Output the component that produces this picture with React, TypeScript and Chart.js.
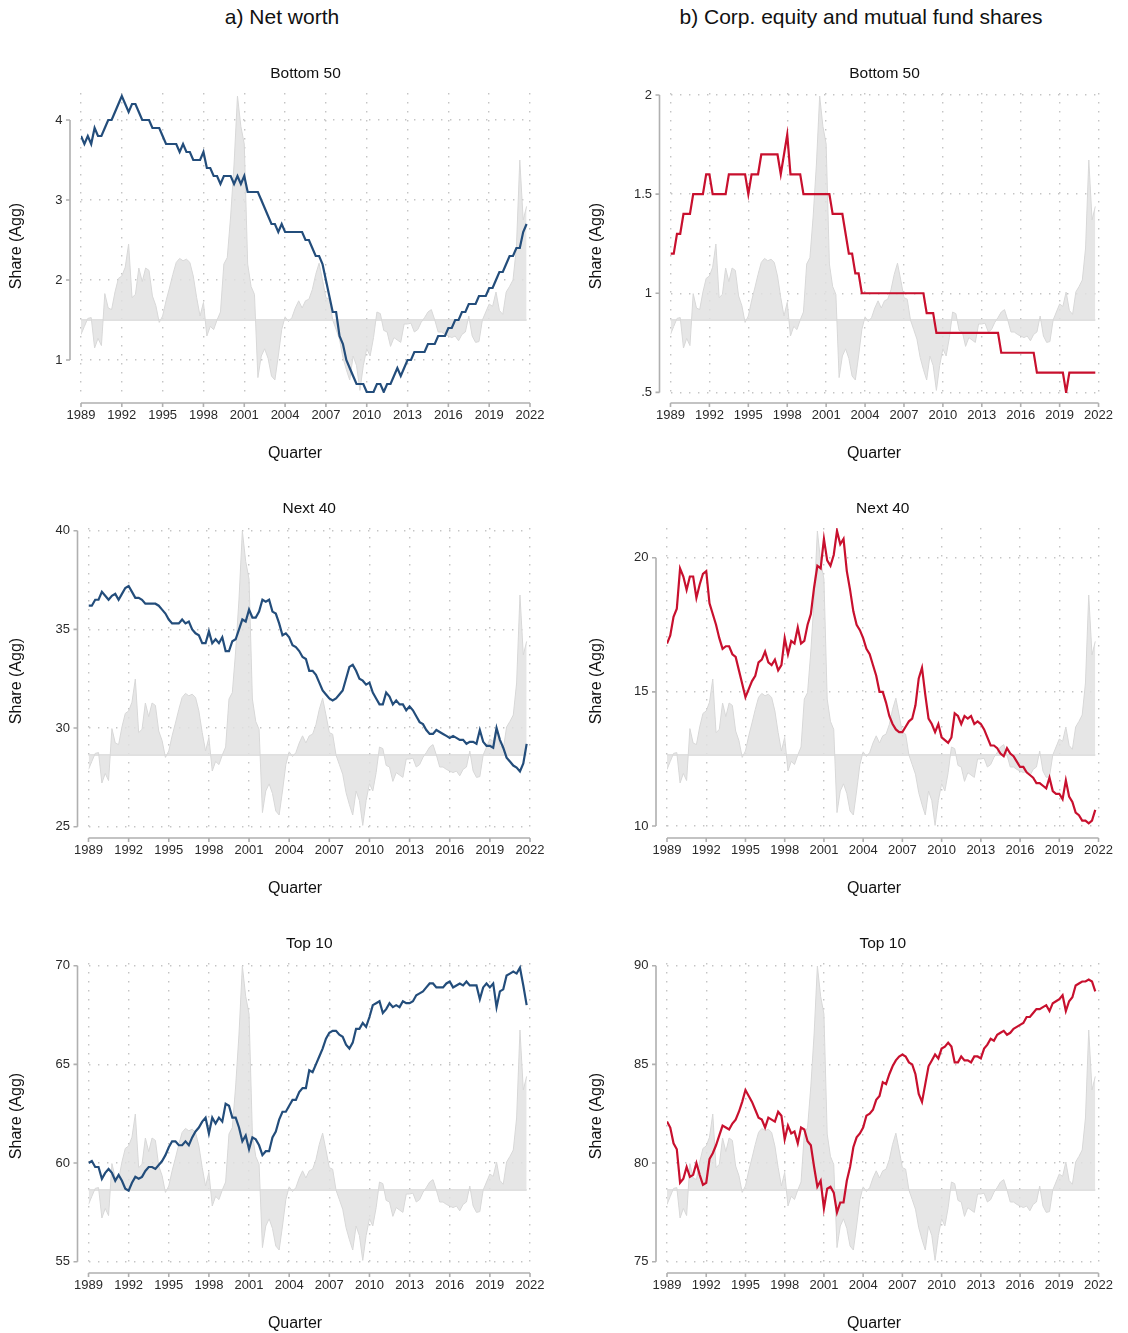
import React, { useEffect, useRef } from 'react';
import { Chart, registerables } from 'chart.js';

Chart.register(...registerables);
Chart.defaults.font.family = "'Liberation Sans', Arial, Helvetica, sans-serif";
Chart.defaults.color = '#333';

// ---------- time axis (quarterly, 1989Q1 .. 2021Q4) ----------
const START_YEAR = 1989;
const N_QUARTERS = 132;
const quarters: number[] = Array.from({ length: N_QUARTERS }, (_, i) => START_YEAR + i / 4);
const xTickYears = [1989, 1992, 1995, 1998, 2001, 2004, 2007, 2010, 2013, 2016, 2019, 2022];

// ---------- background stock-market cycle (grey area, same in every panel) ----------
const stockCycle = [
  -0.18, -0.08, 0.02, 0.03, // 1989
  -0.35, -0.23, -0.32, 0.33, // 1990
  0.15, 0.13, 0.35, 0.52, // 1991
  0.55, 0.66, 0.95, 0.28, // 1992
  0.32, 0.65, 0.48, 0.65, // 1993
  0.62, 0.3, 0.18, -0.03, // 1994
  0.05, 0.24, 0.4, 0.57, // 1995
  0.72, 0.77, 0.74, 0.76, // 1996
  0.72, 0.55, 0.28, 0.05, // 1997
  0.22, -0.2, -0.08, -0.12, // 1998
  0.0, 0.1, 0.7, 0.78, // 1999
  1.3, 1.95, 2.8, 2.42, // 2000
  2.2, 0.7, 0.42, 0.32, // 2001
  -0.72, -0.45, -0.36, -0.48, // 2002
  -0.7, -0.75, -0.45, -0.12, // 2003
  0.04, -0.02, 0.03, 0.15, // 2004
  0.24, 0.15, 0.24, 0.26, // 2005
  0.38, 0.57, 0.71, 0.5, // 2006
  0.28, 0.26, 0.0, -0.12, // 2007
  -0.24, -0.47, -0.62, -0.75, // 2008
  -0.45, -0.57, -0.88, -0.57, // 2009
  -0.36, -0.45, -0.22, 0.1, // 2010
  0.08, -0.13, -0.15, -0.33, // 2011
  -0.22, -0.25, -0.28, -0.05, // 2012
  -0.05, -0.04, -0.15, -0.12, // 2013
  -0.03, 0.03, 0.1, 0.13, // 2014
  0.0, -0.15, -0.15, -0.18, // 2015
  -0.2, -0.22, -0.2, -0.26, // 2016
  -0.18, -0.15, 0.05, -0.2, // 2017
  -0.28, -0.27, 0.0, 0.1, // 2018
  0.2, 0.17, 0.35, 0.12, // 2019
  0.07, 0.35, 0.42, 0.5, // 2020
  0.9, 2.0, 1.25, 1.42, // 2021
];

// ---------- a) Net worth shares ----------
const nwBottom50 = [
  3.8, 3.7, 3.8, 3.7, 3.9, 3.8, 3.8, 3.9, 4.0, 4.0, 4.1, 4.2, // 1989-1991
  4.3, 4.2, 4.1, 4.2, 4.2, 4.1, 4.0, 4.0, 4.0, 3.9, 3.9, 3.9, // 1992-1994
  3.8, 3.7, 3.7, 3.7, 3.7, 3.6, 3.7, 3.6, 3.6, 3.5, 3.5, 3.5, // 1995-1997
  3.6, 3.4, 3.4, 3.3, 3.3, 3.2, 3.3, 3.3, 3.3, 3.2, 3.3, 3.2, // 1998-2000
  3.3, 3.1, 3.1, 3.1, 3.1, 3.0, 2.9, 2.8, 2.7, 2.7, 2.6, 2.7, // 2001-2003
  2.6, 2.6, 2.6, 2.6, 2.6, 2.6, 2.5, 2.5, 2.4, 2.3, 2.3, 2.2, // 2004-2006
  2.0, 1.8, 1.6, 1.6, 1.3, 1.2, 1.0, 0.9, 0.8, 0.7, 0.7, 0.7, // 2007-2009
  0.6, 0.6, 0.6, 0.7, 0.7, 0.6, 0.7, 0.7, 0.8, 0.9, 0.8, 0.9, // 2010-2012
  1.0, 1.0, 1.1, 1.1, 1.1, 1.1, 1.2, 1.2, 1.2, 1.3, 1.3, 1.3, // 2013-2015
  1.4, 1.4, 1.5, 1.5, 1.6, 1.6, 1.7, 1.7, 1.7, 1.8, 1.8, 1.8, // 2016-2018
  1.9, 1.9, 2.0, 2.1, 2.1, 2.2, 2.3, 2.3, 2.4, 2.4, 2.6, 2.7, // 2019-2021
];
const nwNext40 = [
  36.2, 36.2, 36.5, 36.5, 36.9, 36.7, 36.5, 36.7, 36.8, 36.5, 36.8, 37.1, // 1989-1991
  37.2, 36.9, 36.6, 36.6, 36.5, 36.3, 36.3, 36.3, 36.3, 36.2, 36.0, 35.8, // 1992-1994
  35.5, 35.3, 35.3, 35.3, 35.5, 35.3, 35.4, 35.0, 34.8, 34.7, 34.3, 34.3, // 1995-1997
  34.9, 34.3, 34.5, 34.3, 34.6, 33.9, 33.9, 34.4, 34.5, 35.0, 35.5, 35.4, // 1998-2000
  36.0, 35.6, 35.6, 35.9, 36.5, 36.4, 36.5, 35.9, 35.8, 35.3, 34.7, 34.8, // 2001-2003
  34.6, 34.2, 34.1, 33.9, 33.6, 33.5, 32.9, 32.9, 32.7, 32.3, 31.9, 31.7, // 2004-2006
  31.5, 31.4, 31.5, 31.7, 31.9, 32.5, 33.1, 33.2, 32.9, 32.5, 32.4, 32.2, // 2007-2009
  32.3, 31.8, 31.5, 31.2, 31.2, 31.8, 31.6, 31.2, 31.4, 31.2, 31.2, 30.9, // 2010-2012
  31.1, 30.9, 30.6, 30.3, 30.2, 29.9, 29.7, 29.7, 29.9, 29.8, 29.7, 29.6, // 2013-2015
  29.5, 29.6, 29.5, 29.4, 29.4, 29.2, 29.3, 29.3, 29.2, 29.9, 29.3, 29.1, // 2016-2018
  29.1, 29.0, 30.0, 29.4, 29.0, 28.5, 28.3, 28.1, 28.0, 27.8, 28.2, 29.2, // 2019-2021
];
const nwTop10 = [
  60.0, 60.1, 59.8, 59.8, 59.2, 59.5, 59.7, 59.5, 59.1, 59.4, 59.1, 58.7, // 1989-1991
  58.6, 59.0, 59.3, 59.2, 59.3, 59.6, 59.8, 59.8, 59.7, 59.9, 60.1, 60.4, // 1992-1994
  60.8, 61.1, 61.1, 60.9, 60.9, 61.1, 60.9, 61.3, 61.6, 61.8, 62.1, 62.3, // 1995-1997
  61.5, 62.3, 62.0, 62.3, 62.1, 63.0, 62.9, 62.3, 62.3, 61.8, 61.1, 61.4, // 1998-2000
  60.7, 61.3, 61.2, 60.9, 60.4, 60.6, 60.6, 61.3, 61.6, 62.2, 62.6, 62.6, // 2001-2003
  62.9, 63.2, 63.2, 63.6, 63.8, 63.8, 64.7, 64.6, 65.0, 65.4, 65.8, 66.3, // 2004-2006
  66.6, 66.7, 66.7, 66.5, 66.4, 66.0, 65.8, 66.1, 66.8, 66.8, 67.1, 66.9, // 2007-2009
  67.4, 68.0, 68.1, 68.2, 67.6, 67.8, 68.1, 67.9, 68.0, 67.9, 68.2, 68.1, // 2010-2012
  68.1, 68.2, 68.5, 68.6, 68.7, 68.9, 69.1, 69.1, 68.9, 68.9, 68.9, 69.1, // 2013-2015
  69.2, 68.9, 69.0, 69.1, 69.0, 69.2, 69.0, 69.0, 69.0, 68.3, 68.9, 69.1, // 2016-2018
  68.9, 69.1, 67.9, 68.7, 68.8, 69.5, 69.6, 69.7, 69.6, 69.9, 69.0, 68.0, // 2019-2021
];

// ---------- b) Corp. equity and mutual fund shares ----------
const eqBottom50 = [
  1.2, 1.2, 1.3, 1.3, 1.4, 1.4, 1.4, 1.5, 1.5, 1.5, 1.5, 1.6, // 1989-1991
  1.6, 1.5, 1.5, 1.5, 1.5, 1.5, 1.6, 1.6, 1.6, 1.6, 1.6, 1.6, // 1992-1994
  1.5, 1.6, 1.6, 1.6, 1.7, 1.7, 1.7, 1.7, 1.7, 1.7, 1.6, 1.7, // 1995-1997
  1.8, 1.6, 1.6, 1.6, 1.6, 1.5, 1.5, 1.5, 1.5, 1.5, 1.5, 1.5, // 1998-2000
  1.5, 1.5, 1.4, 1.4, 1.4, 1.4, 1.3, 1.2, 1.2, 1.1, 1.1, 1.0, // 2001-2003
  1.0, 1.0, 1.0, 1.0, 1.0, 1.0, 1.0, 1.0, 1.0, 1.0, 1.0, 1.0, // 2004-2006
  1.0, 1.0, 1.0, 1.0, 1.0, 1.0, 1.0, 0.9, 0.9, 0.9, 0.8, 0.8, // 2007-2009
  0.8, 0.8, 0.8, 0.8, 0.8, 0.8, 0.8, 0.8, 0.8, 0.8, 0.8, 0.8, // 2010-2012
  0.8, 0.8, 0.8, 0.8, 0.8, 0.8, 0.7, 0.7, 0.7, 0.7, 0.7, 0.7, // 2013-2015
  0.7, 0.7, 0.7, 0.7, 0.7, 0.6, 0.6, 0.6, 0.6, 0.6, 0.6, 0.6, // 2016-2018
  0.6, 0.6, 0.5, 0.6, 0.6, 0.6, 0.6, 0.6, 0.6, 0.6, 0.6, 0.6, // 2019-2021
];
const eqNext40 = [
  16.8, 17.1, 17.8, 18.1, 19.6, 19.3, 18.8, 19.3, 19.3, 18.5, 19.0, 19.4, // 1989-1991
  19.5, 18.3, 17.9, 17.5, 17.0, 16.6, 16.7, 16.7, 16.4, 16.3, 15.8, 15.3, // 1992-1994
  14.8, 15.1, 15.4, 15.6, 16.1, 16.2, 16.5, 16.1, 16.0, 16.2, 15.8, 16.0, // 1995-1997
  17.0, 16.4, 16.9, 16.8, 17.4, 16.8, 16.9, 17.5, 17.9, 18.9, 19.7, 19.6, // 1998-2000
  20.7, 19.9, 19.7, 20.1, 21.0, 20.5, 20.7, 19.5, 18.8, 18.0, 17.5, 17.3, // 2001-2003
  17.0, 16.6, 16.4, 16.0, 15.6, 15.0, 15.0, 14.6, 14.1, 13.8, 13.6, 13.5, // 2004-2006
  13.5, 13.7, 13.9, 14.0, 14.5, 15.5, 15.9, 14.9, 14.0, 13.8, 13.5, 13.8, // 2007-2009
  13.3, 13.2, 13.1, 13.3, 14.2, 14.1, 13.8, 14.1, 14.0, 14.1, 13.8, 13.9, // 2010-2012
  13.8, 13.6, 13.3, 13.0, 13.0, 12.9, 12.7, 12.6, 12.9, 12.7, 12.6, 12.4, // 2013-2015
  12.2, 12.2, 12.0, 11.9, 11.8, 11.6, 11.6, 11.5, 11.4, 11.8, 11.3, 11.2, // 2016-2018
  11.2, 11.0, 11.7, 11.1, 10.9, 10.5, 10.4, 10.2, 10.2, 10.1, 10.2, 10.6, // 2019-2021
];
const eqTop10 = [
  82.1, 81.8, 81.0, 80.7, 79.0, 79.2, 79.8, 79.3, 79.4, 80.0, 79.4, 78.9, // 1989-1991
  79.0, 80.2, 80.5, 80.9, 81.4, 81.9, 81.8, 81.7, 82.0, 82.2, 82.6, 83.1, // 1992-1994
  83.7, 83.4, 83.1, 82.7, 82.3, 82.2, 81.8, 82.3, 82.2, 82.1, 82.6, 82.4, // 1995-1997
  81.2, 81.9, 81.5, 81.6, 81.0, 81.8, 81.7, 81.1, 80.9, 79.8, 78.8, 79.1, // 1998-2000
  77.7, 78.7, 78.8, 78.5, 77.5, 78.0, 78.0, 79.1, 79.8, 80.8, 81.3, 81.5, // 2001-2003
  81.8, 82.4, 82.5, 82.7, 83.2, 83.4, 84.1, 84.0, 84.5, 84.9, 85.2, 85.4, // 2004-2006
  85.5, 85.4, 85.1, 85.0, 84.5, 83.5, 83.1, 84.0, 84.9, 85.2, 85.5, 85.3, // 2007-2009
  85.8, 85.9, 86.1, 85.9, 85.1, 85.1, 85.4, 85.2, 85.2, 85.1, 85.4, 85.4, // 2010-2012
  85.3, 85.8, 86.0, 86.3, 86.2, 86.5, 86.6, 86.7, 86.5, 86.6, 86.8, 86.9, // 2013-2015
  87.0, 87.1, 87.4, 87.4, 87.6, 87.8, 87.8, 87.9, 88.0, 87.7, 88.1, 88.2, // 2016-2018
  88.3, 88.5, 87.7, 88.2, 88.4, 89.0, 89.1, 89.2, 89.2, 89.3, 89.2, 88.7, // 2019-2021
];

// ---------- y tick values and labels ----------
const yTicksNwBottom50 = [1, 2, 3, 4];
const yLabelsNwBottom50 = ['1', '2', '3', '4'];
const yTicksEqBottom50 = [0.5, 1, 1.5, 2];
const yLabelsEqBottom50 = ['.5', '1', '1.5', '2'];
const yTicksNwNext40 = [25, 30, 35, 40];
const yLabelsNwNext40 = ['25', '30', '35', '40'];
const yTicksEqNext40 = [10, 15, 20];
const yLabelsEqNext40 = ['10', '15', '20'];
const yTicksNwTop10 = [55, 60, 65, 70];
const yLabelsNwTop10 = ['55', '60', '65', '70'];
const yTicksEqTop10 = [75, 80, 85, 90];
const yLabelsEqTop10 = ['75', '80', '85', '90'];

const columnHeaders = ['a) Net worth', 'b) Corp. equity and mutual fund shares'];

// ---------- styling ----------
const BLUE = '#234d7b';
const RED = '#c8102e';
const GRID = '#c4c4c4';
const AXIS = '#b0b0b0';
const FONT = "'Liberation Sans', Arial, Helvetica, sans-serif";
const CANVAS_W = 564;
const CANVAS_H = 403;
const AREA_TOP = 33;
const AREA_H = 300;
const STOCK_MIN = -0.9125;
const STOCK_MAX = 2.8375;

const panels = [
  { id: 'nwB50', col: 0, row: 0, title: 'Bottom 50', values: nwBottom50, color: BLUE, yMin: 0.5875, yMax: 4.3375, ticks: yTicksNwBottom50, labels: yLabelsNwBottom50, yWidth: 81, padRight: 34, yTitleX: 17, qX: 295 },
  { id: 'eqB50', col: 1, row: 0, title: 'Bottom 50', values: eqBottom50, color: RED, yMin: 0.497, yMax: 2.01, ticks: yTicksEqBottom50, labels: yLabelsEqBottom50, yWidth: 106.5, padRight: 20, yTitleX: 33, qX: 310 },
  { id: 'nwN40', col: 0, row: 1, title: 'Next 40', values: nwNext40, color: BLUE, yMin: 24.934, yMax: 40.137, ticks: yTicksNwNext40, labels: yLabelsNwNext40, yWidth: 88.5, padRight: 34, yTitleX: 17, qX: 295 },
  { id: 'eqN40', col: 1, row: 1, title: 'Next 40', values: eqNext40, color: RED, yMin: 9.925, yMax: 21.107, ticks: yTicksEqNext40, labels: yLabelsEqNext40, yWidth: 103, padRight: 20, yTitleX: 33, qX: 310 },
  { id: 'nwT10', col: 0, row: 2, title: 'Top 10', values: nwTop10, color: BLUE, yMin: 54.934, yMax: 70.137, ticks: yTicksNwTop10, labels: yLabelsNwTop10, yWidth: 88.5, padRight: 34, yTitleX: 17, qX: 295 },
  { id: 'eqT10', col: 1, row: 2, title: 'Top 10', values: eqTop10, color: RED, yMin: 74.934, yMax: 90.137, ticks: yTicksEqTop10, labels: yLabelsEqTop10, yWidth: 103, padRight: 20, yTitleX: 33, qX: 310 },
];

const decorPlugin = {
  id: 'stataDecor',
  beforeDatasetsDraw(chart: any) {
    const { ctx } = chart;
    const xs = chart.scales.x;
    const y2 = chart.scales.y2;
    const yb = y2.getPixelForValue(0);
    ctx.save();
    ctx.strokeStyle = '#d6d6d6';
    ctx.lineWidth = 1.5;
    ctx.beginPath();
    ctx.moveTo(xs.getPixelForValue(quarters[0]), yb);
    ctx.lineTo(xs.getPixelForValue(quarters[quarters.length - 1]), yb);
    ctx.stroke();
    ctx.restore();
  },
  afterDraw(chart: any, _args: any, opts: any) {
    const { ctx, chartArea } = chart;
    const xs = chart.scales.x;
    const ys = chart.scales.y;
    ctx.save();
    ctx.strokeStyle = AXIS;
    ctx.lineWidth = 1.6;
    // y axis line
    const ax = chartArea.left - 11;
    const yT = ys.ticks.map((t: any) => ys.getPixelForValue(t.value));
    ctx.beginPath();
    ctx.moveTo(ax, Math.min(...yT));
    ctx.lineTo(ax, Math.max(...yT));
    for (const p of yT) {
      ctx.moveTo(ax - 4, p);
      ctx.lineTo(ax, p);
    }
    ctx.stroke();
    // x axis line
    const ay = chartArea.bottom + 10;
    const xT = xs.ticks.map((t: any) => xs.getPixelForValue(t.value));
    ctx.beginPath();
    ctx.moveTo(Math.min(...xT), ay);
    ctx.lineTo(Math.max(...xT), ay);
    for (const p of xT) {
      ctx.moveTo(p, ay);
      ctx.lineTo(p, ay + 4);
    }
    ctx.stroke();
    // texts
    ctx.fillStyle = '#111';
    ctx.textAlign = 'center';
    ctx.textBaseline = 'middle';
    ctx.font = `15.5px ${FONT}`;
    ctx.fillText(opts.title, (chartArea.left + chartArea.right) / 2, chartArea.top - 19);
    ctx.font = `16px ${FONT}`;
    ctx.fillText('Quarter', opts.qX, chartArea.bottom + 61);
    ctx.translate(opts.yTitleX, (chartArea.top + chartArea.bottom) / 2 + 3);
    ctx.rotate(-Math.PI / 2);
    ctx.fillText('Share (Agg)', 0, 0);
    ctx.restore();
  },
};

function Panel({ p }: { p: any }) {
  const ref = useRef<HTMLCanvasElement | null>(null);
  useEffect(() => {
    if (!ref.current) return;
    const chart = new Chart(ref.current, {
      type: 'line',
      data: {
        datasets: [
          {
            label: 'Stock market cycle',
            data: stockCycle.map((v, i) => ({ x: quarters[i], y: v })),
            yAxisID: 'y2',
            fill: { value: 0 },
            backgroundColor: 'rgba(226,226,226,0.85)',
            borderColor: '#d8d8d8',
            borderWidth: 1,
            pointRadius: 0,
            tension: 0,
            order: 2,
          },
          {
            label: p.title,
            data: p.values.map((v: number, i: number) => ({ x: quarters[i], y: v })),
            yAxisID: 'y',
            borderColor: p.color,
            backgroundColor: p.color,
            borderWidth: 2.2,
            pointRadius: 0,
            tension: 0,
            fill: false,
            order: 1,
          },
        ],
      },
      options: {
        animation: false,
        responsive: false,
        events: [],
        layout: { padding: { left: 0, right: p.padRight, top: AREA_TOP, bottom: 0 } },
        plugins: {
          legend: { display: false },
          tooltip: { enabled: false },
          stataDecor: { title: p.title, qX: p.qX, yTitleX: p.yTitleX },
        } as any,
        scales: {
          x: {
            type: 'linear',
            min: xTickYears[0],
            max: xTickYears[xTickYears.length - 1],
            afterBuildTicks: (s: any) => { s.ticks = xTickYears.map((v) => ({ value: v })); },
            afterFit: (s: any) => { s.height = CANVAS_H - AREA_TOP - AREA_H; },
            ticks: { autoSkip: false, maxRotation: 0, padding: 15, font: { size: 13 }, color: '#2a2a2a', callback: (v: any) => String(v) },
            grid: { color: GRID, lineWidth: 1.4, drawTicks: false },
            border: { display: false, dash: [1.4, 7.6] },
          },
          y: {
            type: 'linear',
            position: 'left',
            min: p.yMin,
            max: p.yMax,
            afterBuildTicks: (s: any) => { s.ticks = p.ticks.map((v: number) => ({ value: v })); },
            afterFit: (s: any) => { s.width = p.yWidth; },
            ticks: {
              autoSkip: false,
              padding: 18.5,
              font: { size: 13 },
              color: '#2a2a2a',
              callback: (v: any) => { const k = p.ticks.indexOf(v); return k >= 0 ? p.labels[k] : ''; },
            },
            grid: { color: GRID, lineWidth: 1.4, drawTicks: false },
            border: { display: false, dash: [1.4, 7.6] },
          },
          y2: {
            type: 'linear',
            display: false,
            min: STOCK_MIN,
            max: STOCK_MAX,
          },
        },
      } as any,
      plugins: [decorPlugin as any],
    });
    return () => chart.destroy();
  }, []);
  return (
    <canvas
      ref={ref}
      width={CANVAS_W}
      height={CANVAS_H}
      style={{ position: 'absolute', left: p.col * CANVAS_W, top: 60 + p.row * 435, width: CANVAS_W, height: CANVAS_H }}
    />
  );
}

export default function App() {
  return (
    <div style={{ position: 'absolute', left: 0, top: 0, width: 1128, height: 1333, background: '#fff', overflow: 'hidden', fontFamily: FONT }}>
      <div style={{ position: 'absolute', left: 82, top: 4, width: 400, textAlign: 'center', fontSize: 21, lineHeight: '26px', color: '#111' }}>{columnHeaders[0]}</div>
      <div style={{ position: 'absolute', left: 661, top: 4, width: 400, textAlign: 'center', fontSize: 21, lineHeight: '26px', color: '#111' }}>{columnHeaders[1]}</div>
      {panels.map((p) => <Panel key={p.id} p={p} />)}
    </div>
  );
}
